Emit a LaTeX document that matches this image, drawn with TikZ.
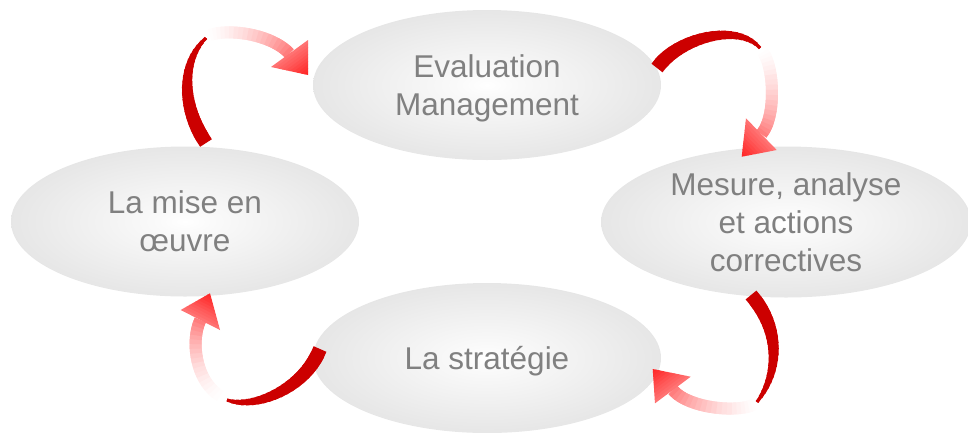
\documentclass[tikz,border=0pt]{standalone}
\usepackage{fontspec}
\setmainfont{Liberation Sans}
\usetikzlibrary{shapes.geometric,calc}
\definecolor{tailred}{RGB}{204,0,0}
\definecolor{arrowred}{RGB}{255,35,35}
\pgfdeclareradialshading{ellshade}{\pgfpoint{0bp}{0bp}}{color(0bp)=(white); color(4bp)=(white!98!black); color(34bp)=(black!13); color(50bp)=(black!15)}

% one cycle arrow, drawn from the named coordinates <prefix>s,c,d,m (tail), g,e,f,b (shaft), h1,h2,t (head)
\newcommand{\cyclearrow}[1]{%
  % fading shaft
  \path (#1g) .. controls (#1e) and (#1f) .. (#1b)
    foreach \kk [evaluate=\kk as \tpos using \kk/20] in {0,...,20} { coordinate[pos=\tpos] (#1r\kk) };
  \foreach \kk in {0,...,19} {%
    \pgfmathtruncatemacro\kn{\kk+1}%
    \pgfmathtruncatemacro\knn{min(\kk+2,20)}%
    \pgfmathtruncatemacro\pc{round(62*((\kk+0.5)/20)^1.7)}%
    \draw[arrowred!\pc!white, line width=12pt, line join=round] (#1r\kk) -- (#1r\kn) -- (#1r\knn);
  }%
  % head
  \foreach \kk in {0,...,9} {%
    \pgfmathsetmacro\tA{\kk/10}%
    \pgfmathsetmacro\tB{min((\kk+1)/10+0.02,1)}%
    \pgfmathtruncatemacro\pc{round(62+38*(\kk+0.5)/10)}%
    \fill[arrowred!\pc!white] ($(#1h1)!\tA!(#1t)$) -- ($(#1h2)!\tA!(#1t)$) -- ($(#1h2)!\tB!(#1t)$) -- ($(#1h1)!\tB!(#1t)$) -- cycle;
  }%
  % solid tapered tail
  \path (#1s) .. controls (#1c) and (#1d) .. (#1m)
    foreach \kk [evaluate=\kk as \tpos using \kk/20] in {0,...,20} { coordinate[pos=\tpos] (#1q\kk) };
  \foreach \kk in {0,...,19} {%
    \pgfmathtruncatemacro\kn{\kk+1}%
    \pgfmathtruncatemacro\knn{min(\kk+2,20)}%
    \pgfmathsetmacro\ww{14-12*((\kk+0.5)/20)^1.5}%
    \draw[tailred, line width=\ww pt, line join=round] (#1q\kk) -- (#1q\kn) -- (#1q\knn);
  }%
}

\begin{document}
\begin{tikzpicture}[x=1pt,y=-1pt,
  stage/.style={ellipse, shading=ellshade, minimum width=348pt, minimum height=150pt,
    inner sep=0pt, text=black!50, font=\fontsize{31.5}{38}\selectfont, align=center, text depth=0pt}]
\useasboundingbox (0,0) rectangle (968,432);

\node[stage] (eval) at (487,85) {Evaluation\\Management};
\node[stage] (mise) at (185,221.5) {La mise en\\œuvre};
\node[stage, minimum width=370pt, minimum height=151pt] (mesure) at (786,222) {Mesure, analyse\\et actions\\correctives};
\node[stage] (strat) at (487,358) {La stratégie};

% arrow: la mise en oeuvre -> evaluation
\coordinate (a1s) at (206,143); \coordinate (a1c) at (182,108);
\coordinate (a1d) at (180,62);  \coordinate (a1m) at (206,38);
\coordinate (a1g) at (207,36);  \coordinate (a1e) at (225,28);
\coordinate (a1f) at (270,33);  \coordinate (a1b) at (289.5,53.5);
\coordinate (a1h1) at (271,67); \coordinate (a1h2) at (308,40); \coordinate (a1t) at (308,75);

% arrow: evaluation -> mesure
\coordinate (a2s) at (657,68);  \coordinate (a2c) at (678,38);
\coordinate (a2d) at (738,22);  \coordinate (a2m) at (760,48);
\coordinate (a2g) at (761,50);  \coordinate (a2e) at (774,62);
\coordinate (a2f) at (777,116); \coordinate (a2b) at (761.5,134);
\coordinate (a2h1) at (746,118.3); \coordinate (a2h2) at (776.7,150); \coordinate (a2t) at (741.7,156.7);

% arrow: mesure -> strategie
\coordinate (a3s) at (751,295); \coordinate (a3c) at (780,328);
\coordinate (a3d) at (780,372); \coordinate (a3m) at (757,402);
\coordinate (a3g) at (756,403); \coordinate (a3e) at (745,413);
\coordinate (a3f) at (690,410); \coordinate (a3b) at (672.8,390);
\coordinate (a3h1) at (690.7,376.7); \coordinate (a3h2) at (655,403.3); \coordinate (a3t) at (652.7,369);

% arrow: strategie -> la mise en oeuvre
\coordinate (a4s) at (320,349); \coordinate (a4c) at (305,388);
\coordinate (a4d) at (255,410); \coordinate (a4m) at (227,400);
\coordinate (a4g) at (224,398); \coordinate (a4e) at (196,385);
\coordinate (a4f) at (190,342); \coordinate (a4b) at (200.3,320);
\coordinate (a4h1) at (180.7,310); \coordinate (a4h2) at (220,330); \coordinate (a4t) at (210,293.3);

\cyclearrow{a1}
\cyclearrow{a2}
\cyclearrow{a3}
\cyclearrow{a4}
\end{tikzpicture}
\end{document}
